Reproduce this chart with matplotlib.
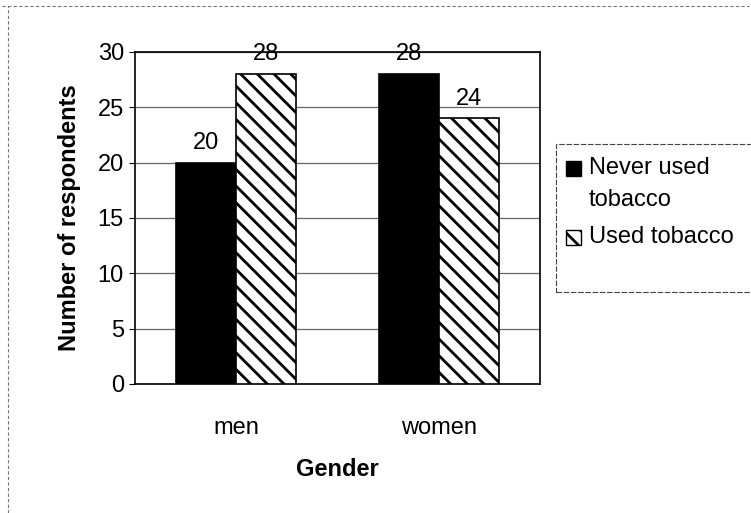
import matplotlib.pyplot as plt
import numpy as np
from matplotlib.patches import Rectangle

plt.rcParams['font.family'] = ['Liberation Sans', 'DejaVu Sans']
plt.rcParams['hatch.linewidth'] = 2.0

genders = ["men", "women"]
never_used = [20, 28]
used = [28, 24]
series_names = ["Never used\ntobacco", "Used tobacco"]

fig = plt.figure(figsize=(7.51, 5.13), dpi=100)
ax = fig.add_axes([135 / 751, 1 - 384 / 513, 405 / 751, 332 / 513])

x = np.arange(len(genders))
w = 0.296
b1 = ax.bar(x - w / 2, never_used, w, color="black", edgecolor="black",
            linewidth=1.2, zorder=3)
b2 = ax.bar(x + w / 2, used, w, color="white", edgecolor="black",
            hatch="\\\\", linewidth=1.2, zorder=3)

for bars in (b1, b2):
    for r in bars:
        ax.text(r.get_x() + r.get_width() / 2, r.get_height() + 0.8,
                f"{r.get_height():.0f}", ha="center", va="bottom", fontsize=17)

ax.set_xlim(-0.5, 1.5)
ax.set_ylim(0, 30)
ax.set_yticks(range(0, 31, 5))
ax.set_xticks(x)
ax.set_xticklabels(genders)
ax.tick_params(axis="x", labelsize=17, length=0, pad=23.5)
ax.tick_params(axis="y", labelsize=17, length=4, direction="out", pad=4)
ax.yaxis.grid(True, color="#666666", linewidth=0.9, zorder=0)
ax.set_axisbelow(True)
for s in ax.spines.values():
    s.set_linewidth(1.2)
ax.set_ylabel("Number of respondents", fontsize=17, fontweight="bold", labelpad=12)
ax.set_xlabel("Gender", fontsize=17, fontweight="bold", labelpad=14)

# legend: box running off the right edge, swatches and labels inside
fig.add_artist(Rectangle((556 / 751, 1 - 292 / 513), 200 / 751, 148 / 513,
                         transform=fig.transFigure, fill=False,
                         edgecolor="#444444", linewidth=0.8,
                         linestyle=(0, (5, 1.5))))
swatches = [dict(facecolor="black", hatch=None), dict(facecolor="white", hatch="\\\\")]
label_rows = [(168, 200), (237,)]
for style, name, rows in zip(swatches, series_names, label_rows):
    y0 = rows[0]
    fig.add_artist(Rectangle((566 / 751, 1 - (y0 + 7.5) / 513), 15 / 751, 15 / 513,
                             transform=fig.transFigure, edgecolor="black",
                             linewidth=1.0, **style))
    for line, y in zip(name.split("\n"), rows):
        fig.text(589 / 751, 1 - y / 513, line, fontsize=17, va="center", ha="left")

# outer chart border (dotted, top and left only visible)
fig.add_artist(plt.Line2D([2 / 751, 749 / 751], [1 - 6 / 513, 1 - 6 / 513],
                          transform=fig.transFigure, color="#777777",
                          linewidth=0.8, linestyle=(0, (3, 2))))
fig.add_artist(plt.Line2D([8 / 751, 8 / 751], [0, 1 - 6 / 513],
                          transform=fig.transFigure, color="#777777",
                          linewidth=0.8, linestyle=(0, (3, 2))))

fig.savefig("out.png", dpi=100)
